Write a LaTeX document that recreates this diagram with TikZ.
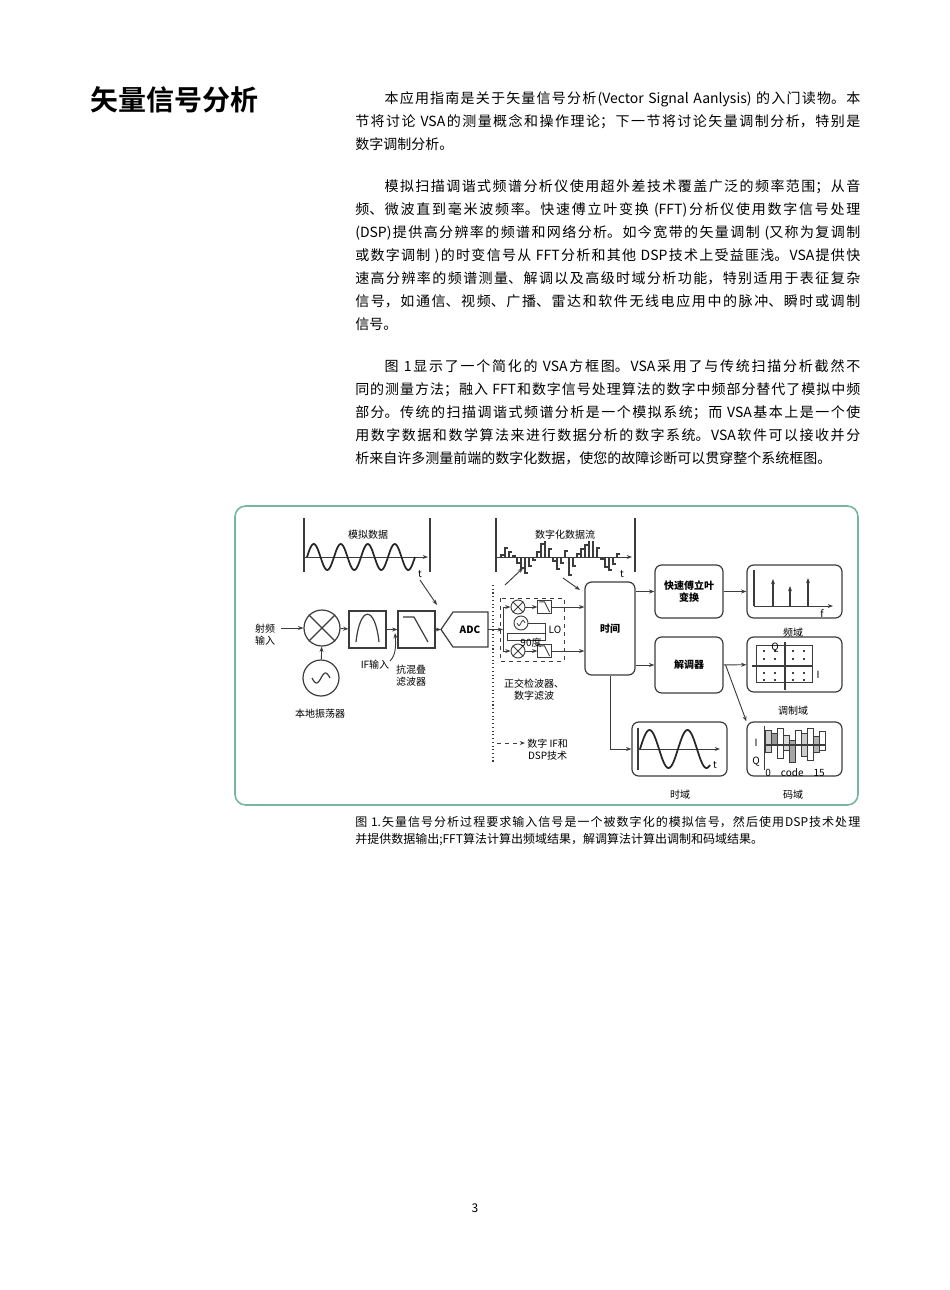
\documentclass[tikz,border=0pt]{standalone}
\usepackage{fontspec}
\setmainfont{Noto Sans CJK SC}
\newfontfamily\cjkb{Noto Sans CJK SC Bold}
\usetikzlibrary{arrows.meta,calc}
\XeTeXlinebreaklocale "zh"
\XeTeXlinebreakskip=0pt plus 1pt
\definecolor{frame}{RGB}{120,180,160}
\definecolor{ln}{RGB}{60,60,60}
\tikzset{
 dg/.style={font=\fontsize{7.5}{9}\selectfont,align=center,inner sep=0pt},
 blk/.style={draw=ln,line width=0.9pt,rounded corners=5pt},
 box/.style={draw=ln,line width=0.8pt},
 ar/.style={-{Stealth[length=4pt,width=3pt]},draw=ln,line width=0.7pt},
 wave/.style={line width=1.3pt,draw=black!85},
}
\begin{document}
\begin{tikzpicture}[x=0.75pt,y=-0.75pt]
\useasboundingbox (0,0) rectangle (950,1290);
% title
\node[anchor=west,inner sep=0pt] (title) at (90,100) {\cjkb\fontsize{21}{24}\selectfont 矢量信号分析};
% body
\node[anchor=north west,inner sep=0pt,text width=378.75pt,align=justify,font=\fontsize{10.5}{17.25}\selectfont] (body) at (355,91) {%
\hspace*{22pt}本应用指南是关于矢量信号分析(Vector Signal Aanlysis) 的入门读物。本\linebreak
节将讨论 VSA的测量概念和操作理论；下一节将讨论矢量调制分析，特别是\linebreak
数字调制分析。\par\vspace{14.5pt}
\hspace*{22pt}模拟扫描调谐式频谱分析仪使用超外差技术覆盖广泛的频率范围；从音\linebreak
频、微波直到毫米波频率。快速傅立叶变换 (FFT)分析仪使用数字信号处理\linebreak
(DSP)提供高分辨率的频谱和网络分析。如今宽带的矢量调制 (又称为复调制\linebreak
或数字调制 )的时变信号从 FFT分析和其他 DSP技术上受益匪浅。VSA提供快\linebreak
速高分辨率的频谱测量、解调以及高级时域分析功能，特别适用于表征复杂\linebreak
信号，如通信、视频、广播、雷达和软件无线电应用中的脉冲、瞬时或调制\linebreak
信号。\par\vspace{14.5pt}
\hspace*{22pt}图 1显示了一个简化的 VSA方框图。VSA采用了与传统扫描分析截然不\linebreak
同的测量方法；融入 FFT和数字信号处理算法的数字中频部分替代了模拟中频\linebreak
部分。传统的扫描调谐式频谱分析是一个模拟系统；而 VSA基本上是一个使\linebreak
用数字数据和数学算法来进行数据分析的数字系统。VSA软件可以接收并分\linebreak
析来自许多测量前端的数字化数据，使您的故障诊断可以贯穿整个系统框图。};
% caption
\node[anchor=north west,inner sep=0pt,text width=378.75pt,align=justify,font=\fontsize{9}{12.75}\selectfont] (cap) at (355,816) {图 1.矢量信号分析过程要求输入信号是一个被数字化的模拟信号，然后使用DSP技术处理\linebreak 并提供数据输出;FFT算法计算出频域结果，解调算法计算出调制和码域结果。};
\node[font=\fontsize{9}{10}\selectfont] (pg) at (475,1208) {3};
% frame
\draw[frame,line width=1.2pt,rounded corners=8pt] (235,506) rectangle (858,805);
% analog data
\draw[ln,line width=1pt] (304,518) -- (304,572) (430,518) -- (430,572);
\coordinate (aa0) at (304,557); \coordinate (aa1) at (428,557);
\draw[ar] (aa0) -- (aa1);
\draw[wave] plot[domain=0:108,samples=120] ({307+\x},{557-13*sin(\x/27*360)});
\node[dg] (anl) at (368,535) {模拟数据};
\node[dg] (at) at (420,574) {t};
\coordinate (a1) at (420,580); \coordinate (a2) at (437,605);
\draw[ar] (a1) -- (a2);
% RF chain
\node[dg] (rf) at (265,635) {射频\\输入};
\node[draw=ln,line width=0.9pt,circle,minimum size=36pt*0.75] (mix) at (322,628) {};
\draw[ln,line width=0.9pt] (mix.north west) -- (mix.south east) (mix.north east) -- (mix.south west);
\coordinate (rfo) at (281,628);
\draw[ar] (rfo) -- (mix.west);
\node[draw=ln,line width=0.9pt,circle,minimum size=36pt*0.75] (lo) at (321,678) {};
\draw[ln,line width=0.9pt] plot[domain=-9:9,samples=40] ({321+\x},{678-5*sin(\x/18*360)});
\draw[ar] (lo) -- (mix);
\node[dg] (lol) at (320,714) {本地振荡器};
\node[box,minimum width=27.75pt,minimum height=27.75pt] (bpf) at (367.5,629.5) {};
\draw[ln,line width=0.9pt] (356,642) .. controls (360,605) and (375,605) .. (379,642);
\node[box,minimum width=27.75pt,minimum height=27.75pt] (lpf) at (416.5,629.5) {};
\draw[ln,line width=0.9pt] (403,617) -- (414,617) -- (428,642);
\draw[ar] (mix) -- (bpf);
\draw[ar] (bpf) -- (lpf);
\node[dg] (ifin) at (375,665) {IF输入};
\draw[ar] (390,661) .. controls (396,655) and (396,645) .. (395,633);
\node[dg] (aaf) at (411,676) {抗混叠\\滤波器};
\path[draw=ln,line width=0.9pt] (441,629.5) -- (453,612) -- (488,612) -- (488,647) -- (453,647) -- cycle;
\node[dg,font=\fontsize{7.5}{9}\selectfont\bfseries] (adct) at (470,630) {ADC};
\coordinate (adcin) at (441,629.5); \coordinate (adcout) at (488,629.5);
\draw[ar] (lpf) -- (adcin);
% digitized
\draw[ln,line width=1pt] (496,518) -- (496,572) (635,518) -- (635,572);
\coordinate (da0) at (497,557); \coordinate (da1) at (632,557);
\draw[ar] (da0) -- (da1);
\foreach \x/\v in {501/2,505/9,509/5,513/1,517/-6,521/-11,525/-16,529/-9,533/-3,537/5,541/13,545/22,549/8,553/-4,557/-12,561/-6,565/6,569/-18,573/-9,577/3,581/8,585/12,589/20,593/17,597/9,601/-2,605/-10,609/-13,613/-7,617/3} {
 \draw[ln,line width=0.8pt] (\x,557) -- (\x,557-\v) -- (\x+2.5,557-\v);}
\node[dg,fill=white,inner sep=1pt] (dgl) at (565,535) {数字化数据流};
\node[dg] (dt) at (622,574) {t};
\coordinate (d1) at (505,585); \coordinate (d2) at (523,568);
\draw[ar] (d1) -- (d2);
\coordinate (d3) at (563,578); \coordinate (d4) at (580,590);
\draw[ar] (d3) -- (d4);
% quadrature
\draw[ln,dashed,line width=0.6pt] (500,598) rectangle (564,661);
\draw[ln,dotted,line width=0.8pt] (493,585) -- (493,762);
\node[draw=ln,circle,line width=0.7pt,minimum size=10.5pt,inner sep=0pt] (qm1) at (518,607) {};
\node[draw=ln,circle,line width=0.7pt,minimum size=10.5pt,inner sep=0pt] (qm2) at (518,651) {};
\foreach \m in {qm1,qm2}{\draw[ln,line width=0.7pt] (\m.north west) -- (\m.south east) (\m.north east) -- (\m.south west);}
\node[draw=ln,circle,line width=0.7pt,minimum size=10.5pt,inner sep=0pt] (qlo) at (521,623) {};
\draw[ln,line width=0.6pt] plot[domain=-4:4,samples=20] ({521+\x},{623-2.5*sin(\x/8*360)});
\node[box,line width=0.7pt,minimum size=10pt,inner sep=0pt] (qf1) at (544.5,607) {};
\node[box,line width=0.7pt,minimum size=10pt,inner sep=0pt] (qf2) at (544.5,651) {};
\foreach \f in {qf1,qf2}{\draw[ln,line width=0.6pt] ($(\f.north west)+(2,2)$) -- ($(\f.north)+(0,2)$) -- ($(\f.south east)+(-2,-2)$);}
\draw[ln,line width=0.6pt] (528,623) -- (545,623) -- (545,640) -- (507,640) -- (507,633) -- (545,633);
\node[dg] (lot) at (555,630) {LO};
\node[dg] (deg) at (531,643) {90度};
\coordinate (qin) at (503,629.5);
\draw[ar] (adcout) -- (qin);
\draw[ln,line width=0.7pt] (503,607) -- (503,651);
\draw[ar] (503,607) -- (qm1); \draw[ar] (503,651) -- (qm2);
\draw[ar] (qm1) -- (qf1); \draw[ar] (qm2) -- (qf2);
\node[dg] (qdl) at (534,690) {正交检波器、\\数字滤波};
\coordinate (dsa) at (497,743); \coordinate (dsb) at (525,743);
\draw[ar,dashed] (dsa) -- (dsb);
\node[dg,anchor=west] (dsp) at (527,750) {数字 IF和\\DSP技术};
% time
\node[blk,minimum width=37.5pt,minimum height=69.75pt] (tm) at (610,628.5) {};
\node[dg,font=\fontsize{7.5}{9}\selectfont\bfseries] at (tm) {时间};
\draw[ar] (qf1.east) -- (tm.west |- qf1.east);
\draw[ar] (qf2.east) -- (tm.west |- qf2.east);
\node[blk,minimum width=51pt,minimum height=39.75pt,dg,font=\fontsize{7.5}{9}\selectfont\bfseries] (fft) at (689,591.5) {快速傅立叶\\变换};
\node[blk,minimum width=51pt,minimum height=42pt,dg,font=\fontsize{7.5}{9}\selectfont\bfseries] (dem) at (689,665) {解调器};
\draw[ar] (tm.east |- fft) -- (fft);
\draw[ar] (tm.east |- dem) -- (dem);
% displays
\node[blk,minimum width=71.25pt,minimum height=39.75pt] (fd) at (794.5,591.5) {};
\draw[ar] (fft) -- (fd);
\draw[ln,line width=0.8pt] (754,570) -- (754,606); \draw[ar] (754,606) -- (833,606);
\draw[ar,line width=0.8pt] (773,606) -- (773,579);
\draw[ar,line width=0.8pt] (790,606) -- (790,586);
\draw[ar,line width=1.1pt] (808,606) -- (808,578);
\node[dg] (fl) at (822,613) {\itshape f};
\node[dg] (fdl) at (793,633) {频域};
\node[blk,minimum width=71.25pt,minimum height=41.25pt] (cd) at (794.5,664.5) {};
\draw[ar] (dem) -- (cd);
\draw[ln,line width=0.6pt] (756,645) rectangle (812,682);
\draw[ln,line width=1pt] (752,666) -- (813,666);
\draw[ln,line width=0.8pt] (785,642) -- (785,690);
\foreach \x in {764,775,793,804}{\foreach \y in {651,659,673,680}{\fill (\x,\y) circle (1.1);}}
\node[dg] at (775,648) {Q};
\node[dg] at (818,675) {I};
\node[dg] (mdl) at (793,711) {调制域};
\node[blk,minimum width=71.25pt,minimum height=40.5pt] (td) at (679.5,749) {};
\draw[ln,line width=0.8pt] (638,728) -- (638,770); \draw[ar] (638,749) -- (720,749);
\draw[wave] plot[domain=0:70,samples=100] ({640+\x},{749-19*sin(\x/38*360)});
\node[dg] at (715,765) {t};
\node[dg] (tdl) at (680,795) {时域};
\draw[ar] (tm.south) |- (td.west);
\node[blk,minimum width=71.25pt,minimum height=40.5pt] (cdd) at (794.5,749) {};
\draw[ar] (dem.east) ++(2,0) coordinate (dm) -- (cdd.north west);
\foreach \x/\t/\b/\c in {765/730/752/gray!40,771/733/745/gray!80,777/728/758/white,783/735/750/gray!30,789/740/762/gray!70,795/730/745/white,801/733/756/gray!40,807/728/760/white,813/736/752/gray!60,819/731/750/white}{
 \filldraw[fill=\c,draw=ln,line width=0.5pt] (\x,\t) rectangle (\x+6,\b);}
\draw[ln,line width=1pt] (765,745) -- (825,745);
\draw[ln,line width=0.6pt] (764,726) -- (764,770);
\node[dg] at (756,743) {I};
\node[dg] at (756,762) {Q};
\node[dg] at (795,773) {0\quad code\quad 15};
\node[dg] (cdl) at (793,795) {码域};
\end{tikzpicture}
\end{document}
